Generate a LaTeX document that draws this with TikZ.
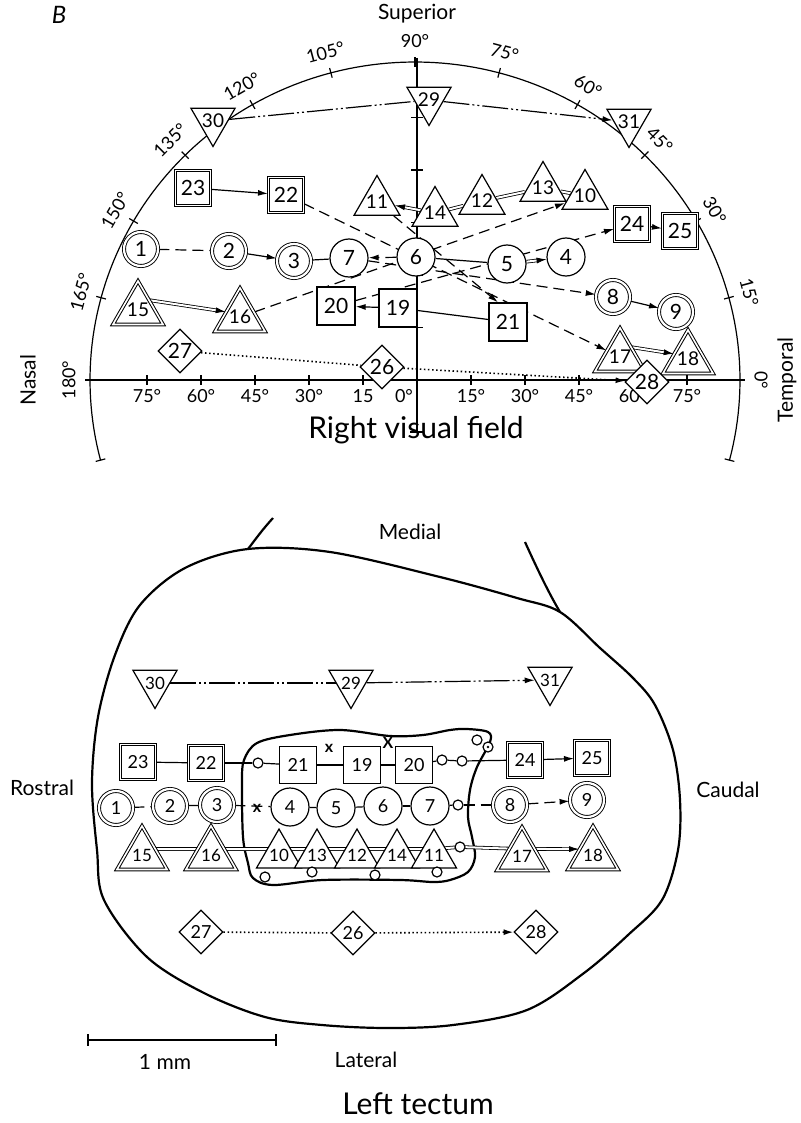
\documentclass[tikz,border=0pt]{standalone}
\usepackage{fontspec}
\setmainfont{Lato}
\usetikzlibrary{shapes.geometric,arrows.meta,backgrounds,calc}
\newcommand{\zt}[1]{\makebox[0pt]{\raisebox{-0.36em}[0pt][0pt]{#1}}}
\begin{document}
\begin{tikzpicture}[x=1pt,y=-1pt,
  nb/.style={draw, fill=white, line width=1.2pt, inner sep=0pt, font=\fontsize{21}{22}\selectfont},
  tf/.style={font=\fontsize{18}{19}\selectfont},
  trf/.style={font=\fontsize{17}{18}\selectfont},
  cir/.style={circle, minimum size=38pt},
  dcir/.style={circle, minimum size=34pt, double, double distance=2.2pt, line width=0.9pt},
  sqr/.style={rectangle, minimum size=38pt},
  dsqr/.style={rectangle, minimum size=35pt, double, double distance=1.5pt, line width=1.1pt},
  tri/.style={regular polygon, regular polygon sides=3, minimum size=53pt, font=\fontsize{19}{20}\selectfont},
  dtri/.style={regular polygon, regular polygon sides=3, minimum size=58pt, double, double distance=1.6pt, line width=1pt, font=\fontsize{19}{20}\selectfont},
  itri/.style={tri, shape border rotate=180, minimum size=51pt},
  dia/.style={diamond, minimum size=44pt},
  smallo/.style={circle, draw, fill=white, line width=1.2pt, minimum size=10pt, inner sep=0pt},
  xm/.style={inner sep=0pt, font=\fontsize{16}{16}\bfseries\selectfont},
  lw/.style={line width=1.2pt},
  arr/.style={-{Latex[length=10pt,width=6pt]}},
  dsh/.style={line width=1.2pt, dash pattern=on 11pt off 6pt},
  dot/.style={line width=1.6pt, dash pattern=on 1.5pt off 2.6pt},
  ddd/.style={line width=1.2pt, dash pattern=on 26pt off 3pt on 2pt off 3pt on 2pt off 3pt},
  dbl/.style={double, double distance=2pt, line width=0.8pt},
  outl/.style={line width=2.2pt, line join=round},
  lab/.style={inner sep=0pt, font=\fontsize{21}{23}\selectfont},
  big/.style={inner sep=0pt, font=\fontsize{30}{32}\selectfont},
  ang/.style={inner sep=0pt, font=\fontsize{18}{20}\selectfont}
]
\useasboundingbox (0,0) rectangle (800,1123);

% ---------- labels (upper) ----------
\node[inner sep=0pt, font=\fontsize{24}{24}\itshape\selectfont] (lB) at (59,15) {B};
\node[lab] (lsup) at (417,14) {Superior};
\node[lab, rotate=90] (lnas) at (28,380) {Nasal};
\node[lab, rotate=90] (ltem) at (787,380) {Temporal};
\node[big] (lrvf) at (416,430) {Right visual field};
\foreach \a in {0,15,...,180} {
  \node[ang, rotate=\a-90] at ({415+346*cos(\a)},{380-339*sin(\a)}) {\a°};
}
\foreach \k/\t in {1/15,2/30°,3/45°,4/60°,5/75°} {
  \node[ang] at ({417-54*\k},396) {\t};
}
\node[ang] at (404,396) {0°};
\foreach \k/\t in {1/15°,2/30°,3/45°,4/60°,5/75°} {
  \node[ang] at ({417+54*\k},396) {\t};
}

% ---------- labels (lower) ----------
\node[lab] (lmed) at (410,532) {Medial};
\node[lab] (lros) at (42,788) {Rostral};
\node[lab] (lcau) at (728,790) {Caudal};
\node[lab] (llat) at (366,1060) {Lateral};
\node[lab] (lmm) at (165,1062) {1 mm};
\node[big] (llt) at (418,1104) {Left tectum};

% ---------- upper nodes ----------
\node[nb,dcir] (u1) at (141,249) {\zt{1}};
\node[nb,dcir] (u2) at (229,251) {\zt{2}};
\node[nb,dcir] (u3) at (294,261) {\zt{3}};
\node[nb,cir] (u7) at (349,258) {\zt{7}};
\node[nb,cir] (u6) at (416,257) {\zt{6}};
\node[nb,cir] (u5) at (507,264) {\zt{5}};
\node[nb,cir] (u4) at (566,257) {\zt{4}};
\node[nb,dcir] (u8) at (613,297) {\zt{8}};
\node[nb,dcir] (u9) at (676,312) {\zt{9}};
\node[nb,dsqr] (u23) at (193,188) {\zt{23}};
\node[nb,dsqr] (u22) at (286,195) {\zt{22}};
\node[nb,dsqr] (u24) at (632,224) {\zt{24}};
\node[nb,dsqr] (u25) at (680,231) {\zt{25}};
\node[nb,sqr] (u20) at (336,306) {\zt{20}};
\node[nb,sqr] (u19) at (398,308) {\zt{19}};
\node[nb,sqr] (u21) at (508,322) {\zt{21}};
\node[nb,tri] (u11) at (377,202) {\zt{11}};
\node[nb,tri] (u14) at (435,213) {\zt{14}};
\node[nb,tri] (u12) at (482,201) {\zt{12}};
\node[nb,tri] (u13) at (543,188) {\zt{13}};
\node[nb,tri] (u10) at (585,196) {\zt{10}};
\node[nb,dtri] (u15) at (138,310) {\zt{15}};
\node[nb,dtri] (u16) at (240,317) {\zt{16}};
\node[nb,dtri] (u17) at (620,357) {\zt{17}};
\node[nb,dtri] (u18) at (688,359) {\zt{18}};
\node[nb,itri] (u30) at (213,121) {\zt{30}};
\node[nb,itri] (u29) at (429,100) {\zt{29}};
\node[nb,itri] (u31) at (629,122) {\zt{31}};
\node[nb,dia] (u27) at (180,351) {\zt{27}};
\node[nb,dia] (u26) at (382,367) {\zt{26}};
\node[nb,dia] (u28) at (647,382) {\zt{28}};

% ---------- tectum nodes ----------
\node[nb,itri,trf] (t30) at (155,683) {\zt{30}};
\node[nb,itri,trf] (t29) at (351,683) {\zt{29}};
\node[nb,itri,trf] (t31) at (550,680) {\zt{31}};
\node[nb,tf,dsqr] (t23) at (138,762) {\zt{23}};
\node[nb,tf,dsqr] (t22) at (206,763) {\zt{22}};
\node[nb,tf,sqr,minimum size=37pt] (t21) at (298,765) {\zt{21}};
\node[nb,tf,sqr,minimum size=37pt] (t19) at (362,765) {\zt{19}};
\node[nb,tf,sqr,minimum size=37pt] (t20) at (414,765) {\zt{20}};
\node[nb,tf,dsqr] (t24) at (525,760) {\zt{24}};
\node[nb,tf,dsqr] (t25) at (592,758) {\zt{25}};
\node[nb,tf,dcir] (t1) at (116,808) {\zt{1}};
\node[nb,tf,dcir] (t2) at (170,806) {\zt{2}};
\node[nb,tf,dcir] (t3) at (217,805) {\zt{3}};
\node[nb,tf,cir] (t4) at (290,807) {\zt{4}};
\node[nb,tf,cir] (t5) at (336,808) {\zt{5}};
\node[nb,tf,cir] (t6) at (383,806) {\zt{6}};
\node[nb,tf,cir] (t7) at (430,806) {\zt{7}};
\node[nb,tf,dcir] (t8) at (510,805) {\zt{8}};
\node[nb,tf,dcir] (t9) at (587,800) {\zt{9}};
\node[nb,dtri,trf] (t15) at (142,855) {\zt{15}};
\node[nb,dtri,trf] (t16) at (211,855) {\zt{16}};
\node[nb,tri,trf,minimum size=52pt] (t10) at (279,855) {\zt{10}};
\node[nb,tri,trf,minimum size=52pt] (t13) at (317,855) {\zt{13}};
\node[nb,tri,trf,minimum size=52pt] (t12) at (357,855) {\zt{12}};
\node[nb,tri,trf,minimum size=52pt] (t14) at (397,855) {\zt{14}};
\node[nb,tri,trf,minimum size=52pt] (t11) at (434,855) {\zt{11}};
\node[nb,dtri,trf] (t17) at (522,856) {\zt{17}};
\node[nb,dtri,trf] (t18) at (593,855) {\zt{18}};
\node[nb,tf,dia] (t27) at (201,932) {\zt{27}};
\node[nb,tf,dia] (t26) at (353,933) {\zt{26}};
\node[nb,tf,dia] (t28) at (536,932) {\zt{28}};

\node[smallo] (o1) at (258,763) {};
\node[smallo] (o2) at (442,760) {};
\node[smallo] (o3) at (462,761) {};
\node[smallo] (o4) at (458,805) {};
\node[smallo] (o5) at (460,847) {};
\node[smallo] (o6) at (477,740) {};
\node[smallo] (o7) at (488,747) {};
\fill (o7.center) circle (1.4pt);
\node[smallo] (o8) at (265,877) {};
\node[smallo] (o9) at (312,872) {};
\node[smallo] (o10) at (375,875) {};
\node[smallo] (o11) at (437,872) {};
\node[xm] (x1) at (329,748) {x};
\node[xm] (x2) at (388,743) {X};
\node[xm] (x3) at (257,808) {x};

% ---------- background: axes, outlines, connectors ----------
\begin{scope}[on background layer]
\fill[white] (0,0) rectangle (800,1123);
% perimeter arc
\draw[lw] plot[domain=-14.6:194.6, samples=150] ({415+325*cos(\x)},{380-318*sin(\x)});
\foreach \a in {-14.6,0,15,...,180,194.6} {
  \draw[lw] ({415+320*cos(\a)},{380-313*sin(\a)}) -- ({415+330*cos(\a)},{380-323*sin(\a)});
}
% axes
\draw[lw] (90,380) -- (740,380);
\foreach \k in {1,...,5} {
  \draw[lw] ({417-54*\k},375) -- ({417-54*\k},385);
  \draw[lw] ({417+54*\k},375) -- ({417+54*\k},385);
}
\draw[lw] (417,58) -- (417,432);
\draw[lw] (410,432) -- (424,432);
\foreach \y in {327.5,275,222.5,170,117.5} {
  \draw[lw] (411,\y) -- (423,\y);
}
% upper connectors
\draw[ddd] (u30) -- (u29);
\draw[ddd,arr] (u29) -- (u31);
\draw[lw,arr] (u23) -- (u22);
\draw[dsh,arr] (u22) -- (u17);
\draw[dsh,arr] (u11) -- ([xshift=-10pt]u21.north);
\draw[dbl,arr] (u14) -- (u11);
\draw[dbl] (u12) -- (u14);
\draw[dbl] (u13) -- (u12);
\draw[dbl] (u10) -- (u13);
\draw[dsh] (u1) -- (u2);
\draw[lw,arr] (u2) -- (u3);
\draw[lw] (u3) -- (u7);
\draw[dsh,arr] (u6) -- (u7);
\draw[lw] (u6) -- (u5);
\draw[dbl,arr] (u5) -- (u4);
\draw[dsh,arr] (u7) -- (u8);
\draw[lw,arr] (u8) -- (u9);
\draw[dbl,arr] (u15.40) -- (u16.160);
\draw[dsh,arr] (u16) -- (u10);
\draw[dsh,arr] (u20) -- (u24);
\draw[lw,arr] (u24) -- (u25);
\draw[lw,arr] (u19) -- (u20);
\draw[lw] (u19) -- (u21);
\draw[dbl,arr] (u17.40) -- (u18.160);
\draw[dot] (u27) -- (u26);
\draw[dot,arr] (u26) -- (u28);

% tectum outline
\draw[outl] plot[smooth cycle, tension=0.55] coordinates {
  (248,549) (330,552) (440,577) (517,598) (560,612) (600,648) (633,678) (655,705)
  (673,750) (680,800) (678,850) (662,900) (628,935) (584,973) (527,1010) (453,1025)
  (387,1028) (322,1025) (265,1017) (204,993) (147,957) (104,900) (97,850) (92,783)
  (98,717) (115,655) (140,605) (185,568)};
\draw[outl] (273,518) .. controls (262,530) and (255,540) .. (248,549);
\draw[outl] (525,542) .. controls (540,575) and (550,595) .. (560,612);
% inner region
\draw[outl] plot[smooth cycle, tension=0.55] coordinates {
  (257,743) (290,735) (340,730) (390,736) (423,735) (450,730) (467,729) (488,732)
  (490,742) (477,767) (470,790) (468,817) (472,837) (475,857) (468,872) (450,880)
  (433,882) (400,880) (323,880) (273,885) (253,878) (248,863) (243,837) (242,783)
  (244,760)};

% tectum connectors
\draw[ddd] (t30) -- (t29);
\draw[ddd,arr] (t29) -- (t31);
\draw[lw] (t23) -- (t22);
\draw[lw] (t22) -- (o1);
\draw[lw] (o1) -- (t21);
\draw[lw] (t21) -- (t19);
\draw[lw] (t19) -- (t20);
\draw[lw] (t20) -- (o2);
\draw[lw] (o2) -- (o3);
\draw[lw] (o3) -- (t24);
\draw[lw,arr] (t24) -- (t25);
\draw[dsh] (t1) -- (t2);
\draw[lw] (t2) -- (t3);
\draw[dsh] (t3) -- (t4);
\draw[lw] (t4) -- (t5);
\draw[dsh] (t5) -- (t6);
\draw[lw] (t6) -- (t7);
\draw[lw] (t7) -- (o4);
\draw[dsh] (o4) -- (t8);
\draw[dsh,arr] (t8) -- (t9);
\draw[dbl] ([yshift=6pt]t15.center) -- ([yshift=6pt]t16.center) -- ([yshift=6pt]t10.center)
  -- ([yshift=6pt]t13.center) -- ([yshift=6pt]t12.center) -- ([yshift=6pt]t14.center)
  -- ([yshift=6pt]t11.center) -- (o5.center) -- ([yshift=7pt]t17.center);
\draw[dbl,arr] (t17.28) -- (t18.157);
\draw[dot] (t27) -- (t26);
\draw[dot,arr] (t26) -- (t28);
% scale bar
\draw[line width=1.5pt] (88,1040) -- (276,1040);
\draw[line width=1.5pt] (88,1034) -- (88,1046);
\draw[line width=1.5pt] (276,1034) -- (276,1046);
\end{scope}
\end{tikzpicture}
\end{document}
